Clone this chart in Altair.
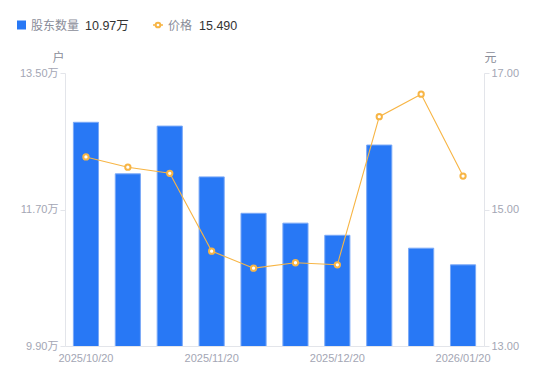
import altair as alt
import pandas as pd

dates = ["2025/10/20", "2025/10/31", "2025/11/10", "2025/11/20", "2025/11/30",
         "2025/12/10", "2025/12/20", "2025/12/31", "2026/01/10", "2026/01/20"]
holders = [12.85, 12.17, 12.80, 12.13, 11.65, 11.52, 11.36, 12.55, 11.19, 10.97]
prices = [15.77, 15.62, 15.53, 14.39, 14.14, 14.22, 14.19, 16.36, 16.69, 15.49]
shown_labels = ["2025/10/20", "2025/11/20", "2025/12/20", "2026/01/20"]
left_ticks = [9.90, 11.70, 13.50]
right_ticks = [13.00, 15.00, 17.00]

df = pd.DataFrame({"date": dates, "holders": holders, "price": prices})

FONT = "Liberation Sans, Arial, Noto Sans CJK SC"
LBL = "#a3a6b4"
AXC = "#e3e5ea"
BLUE = "#2878f5"
ORANGE = "#f7b545"

label_test = " || ".join([f"datum.label == '{s}'" for s in shown_labels])

x = alt.X("date:N", sort=dates,
          scale=alt.Scale(paddingInner=0.4, paddingOuter=0.2),
          axis=alt.Axis(title=None, labelAngle=0, ticks=False, domainColor=AXC,
                        labelColor=LBL, labelFont=FONT, labelFontSize=11,
                        labelPadding=6, labelExpr=f"({label_test}) ? datum.label : ''"))

bars = alt.Chart(df).mark_bar(color=BLUE, stroke="#7aa9f7", strokeWidth=1, clip=True).encode(
    x=x,
    y=alt.Y("holders:Q",
            scale=alt.Scale(domain=[9.9, 13.5], zero=False, nice=False),
            axis=alt.Axis(values=left_ticks, grid=False, domainColor=AXC, tickColor=AXC,
                          tickSize=5, labelColor=LBL, labelFont=FONT, labelFontSize=11,
                          labelExpr="format(datum.value, '.2f') + '万'",
                          title="户", titleAngle=0, titleX=-7, titleY=-9,
                          titleAlign="center", titleBaseline="bottom",
                          titleColor="#8a8d99", titleFont=FONT, titleFontSize=12,
                          titleFontWeight="normal")),
)

line = alt.Chart(df).mark_line(color=ORANGE, strokeWidth=1.1).encode(
    x=alt.X("date:N", sort=dates),
    y=alt.Y("price:Q",
            scale=alt.Scale(domain=[13, 17], zero=False, nice=False),
            axis=alt.Axis(orient="right", values=right_ticks, grid=False, domainColor=AXC,
                          tickColor=AXC, tickSize=5, labelColor=LBL, labelFont=FONT,
                          labelFontSize=11, format=".2f",
                          title="元", titleAngle=0, titleX=6, titleY=-9,
                          titleAlign="center", titleBaseline="bottom",
                          titleColor="#8a8d99", titleFont=FONT, titleFontSize=12,
                          titleFontWeight="normal")),
)
pts = alt.Chart(df).mark_point(shape="circle", filled=True, fill="white", stroke=ORANGE,
                               strokeWidth=2, size=28, opacity=1).encode(
    x=alt.X("date:N", sort=dates),
    y=alt.Y("price:Q", scale=alt.Scale(domain=[13, 17], zero=False, nice=False)),
)

right = alt.layer(line, pts)

# legend (header)
leg_df = pd.DataFrame({
    "name1": ["股东数量"], "val1": [f"{holders[-1]:.2f}万"],
    "name2": ["价格"], "val2": [f"{prices[-1]:.3f}"],
})
LY = -48
base_leg = alt.Chart(leg_df)
sq = base_leg.mark_square(color=BLUE, size=81, opacity=1, cornerRadius=2).encode(
    x=alt.value(-43.5), y=alt.value(LY))
t1 = base_leg.mark_text(align="left", baseline="middle", font=FONT, fontSize=12,
                        color="#8a8d99").encode(x=alt.value(-34), y=alt.value(LY + 1), text="name1:N")
v1 = base_leg.mark_text(align="left", baseline="middle", font=FONT, fontSize=12.5,
                        color="#333333").encode(x=alt.value(20), y=alt.value(LY + 1), text="val1:N")
lg = base_leg.mark_rule(color=ORANGE, strokeWidth=1.5).encode(
    x=alt.value(88), x2=alt.value(98), y=alt.value(LY))
lp = base_leg.mark_point(shape="circle", filled=True, fill="white", stroke=ORANGE,
                         strokeWidth=2, size=22, opacity=1).encode(x=alt.value(93), y=alt.value(LY))
t2 = base_leg.mark_text(align="left", baseline="middle", font=FONT, fontSize=12,
                        color="#8a8d99").encode(x=alt.value(103), y=alt.value(LY + 1), text="name2:N")
v2 = base_leg.mark_text(align="left", baseline="middle", font=FONT, fontSize=12.5,
                        color="#333333").encode(x=alt.value(134), y=alt.value(LY + 1), text="val2:N")

chart = alt.layer(bars, right, sq, t1, v1, lg, lp, t2, v2).resolve_scale(y="independent").properties(
    width=419, height=273,
    autosize=alt.AutoSizeParams(type="none"),
    padding={"left": 57, "top": 65, "right": 58, "bottom": 27},
).configure_view(stroke=None)

chart.save("out.html", embed_options={"renderer": "svg", "actions": False})
